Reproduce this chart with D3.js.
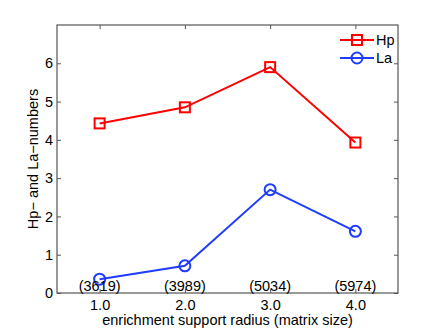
<!DOCTYPE html>
<html>
<head>
<meta charset="utf-8">
<script src="https://cdn.jsdelivr.net/npm/d3@7"></script>
<style>
body { margin: 0; background: white; }
text { font-family: "Liberation Sans", Arial, sans-serif; }
</style>
</head>
<body>
<div id="chart-area"></div>
<script>
// Data
var radius = [1.0, 2.0, 3.0, 4.0];
var hpValues = [4.43, 4.85, 5.9, 3.93];
var laValues = [0.36, 0.71, 2.7, 1.61];
var matrixSize = ["(3619)", "(3989)", "(5034)", "(5974)"];
var yTicks = [0, 1, 2, 3, 4, 5, 6];

var canvasWidth = 440;
var canvasHeight = 331;
var margin = {top: 25, right: 42, bottom: 38, left: 57};
var chartWidth = canvasWidth - margin.left - margin.right;
var chartHeight = canvasHeight - margin.top - margin.bottom;
var fontSize = "14.5px";

var canvas = d3.select("#chart-area")
	.append("svg")
	.attr("width", canvasWidth)
	.attr("height", canvasHeight);

var chartArea = canvas.append("g")
	.attr("transform", "translate(" + margin.left + "," + margin.top + ")");

// Scales
var x = d3.scaleLinear().domain([0.5, 4.5]).range([0, chartWidth]);
var y = d3.scaleLinear().domain([0, 7]).range([chartHeight, 0]);

var axisColor = "#555";

// Box
chartArea.append("rect")
	.attr("width", chartWidth)
	.attr("height", chartHeight)
	.attr("fill", "none")
	.attr("stroke", axisColor)
	.attr("stroke-width", 1.2);

// Axes (ticks inward)
function styleAxis(g) {
	g.select(".domain").remove();
	g.selectAll("line").attr("stroke", axisColor);
	g.selectAll("text").attr("fill", "black").attr("font-size", fontSize)
		.attr("font-family", "Liberation Sans, Arial, sans-serif");
}

chartArea.append("g")
	.attr("transform", "translate(0," + chartHeight + ")")
	.call(d3.axisBottom(x).tickValues(radius).tickFormat(d3.format(".1f"))
		.tickSizeInner(-4).tickPadding(7))
	.call(styleAxis);

chartArea.append("g")
	.call(d3.axisTop(x).tickValues(radius).tickFormat("").tickSizeInner(-4))
	.call(styleAxis);

chartArea.append("g")
	.call(d3.axisLeft(y).tickValues(yTicks).tickFormat(d3.format("d"))
		.tickSizeInner(-4).tickPadding(4))
	.call(styleAxis);

chartArea.append("g")
	.attr("transform", "translate(" + chartWidth + ",0)")
	.call(d3.axisRight(y).tickValues(yTicks).tickFormat("").tickSizeInner(-4))
	.call(styleAxis);

// Series
var line = d3.line()
	.x(function(d, i) { return x(radius[i]); })
	.y(function(d) { return y(d); });

chartArea.append("path")
	.datum(hpValues)
	.attr("d", line)
	.attr("fill", "none")
	.attr("stroke", "#ff0000")
	.attr("stroke-width", 2);

chartArea.selectAll(".hp-mark")
	.data(hpValues)
	.enter().append("rect")
	.attr("class", "hp-mark")
	.attr("x", function(d, i) { return x(radius[i]) - 5; })
	.attr("y", function(d) { return y(d) - 5; })
	.attr("width", 10)
	.attr("height", 10)
	.attr("fill", "none")
	.attr("stroke", "#ff0000")
	.attr("stroke-width", 2);

chartArea.append("path")
	.datum(laValues)
	.attr("d", line)
	.attr("fill", "none")
	.attr("stroke", "#1f3cff")
	.attr("stroke-width", 2);

chartArea.selectAll(".la-mark")
	.data(laValues)
	.enter().append("circle")
	.attr("class", "la-mark")
	.attr("cx", function(d, i) { return x(radius[i]); })
	.attr("cy", function(d) { return y(d); })
	.attr("r", 5.5)
	.attr("fill", "none")
	.attr("stroke", "#1f3cff")
	.attr("stroke-width", 2);

// Matrix size annotations
chartArea.selectAll(".size-label")
	.data(matrixSize)
	.enter().append("text")
	.attr("class", "size-label")
	.attr("x", function(d, i) { return x(radius[i]); })
	.attr("y", chartHeight - 2)
	.attr("text-anchor", "middle")
	.attr("font-size", fontSize)
	.text(function(d) { return d; });

// Legend
var legendData = [
	{name: "Hp", color: "#ff0000", shape: "square"},
	{name: "La", color: "#1f3cff", shape: "circle"}
];
var legend = chartArea.append("g")
	.attr("transform", "translate(" + (chartWidth - 58) + ",15)");

legendData.forEach(function(d, i) {
	var row = legend.append("g").attr("transform", "translate(0," + (i * 18) + ")");
	row.append("line")
		.attr("x1", 0).attr("x2", 34)
		.attr("stroke", d.color).attr("stroke-width", 2);
	if (d.shape == "square") {
		row.append("rect")
			.attr("x", 12).attr("y", -5).attr("width", 10).attr("height", 10)
			.attr("fill", "none").attr("stroke", d.color).attr("stroke-width", 2);
	} else {
		row.append("circle")
			.attr("cx", 17).attr("r", 5.5)
			.attr("fill", "none").attr("stroke", d.color).attr("stroke-width", 2);
	}
	row.append("text")
		.attr("x", 36).attr("y", 5)
		.attr("font-size", fontSize)
		.text(d.name);
});

// Axis labels
canvas.append("text")
	.attr("x", margin.left + chartWidth / 2)
	.attr("y", 325)
	.attr("text-anchor", "middle")
	.attr("font-size", fontSize)
	.text("enrichment support radius (matrix size)");

canvas.append("text")
	.attr("transform", "translate(38," + (margin.top + chartHeight / 2) + ") rotate(-90)")
	.attr("text-anchor", "middle")
	.attr("font-size", fontSize)
	.text("Hp\u2212 and La\u2212numbers");
</script>
</body>
</html>
